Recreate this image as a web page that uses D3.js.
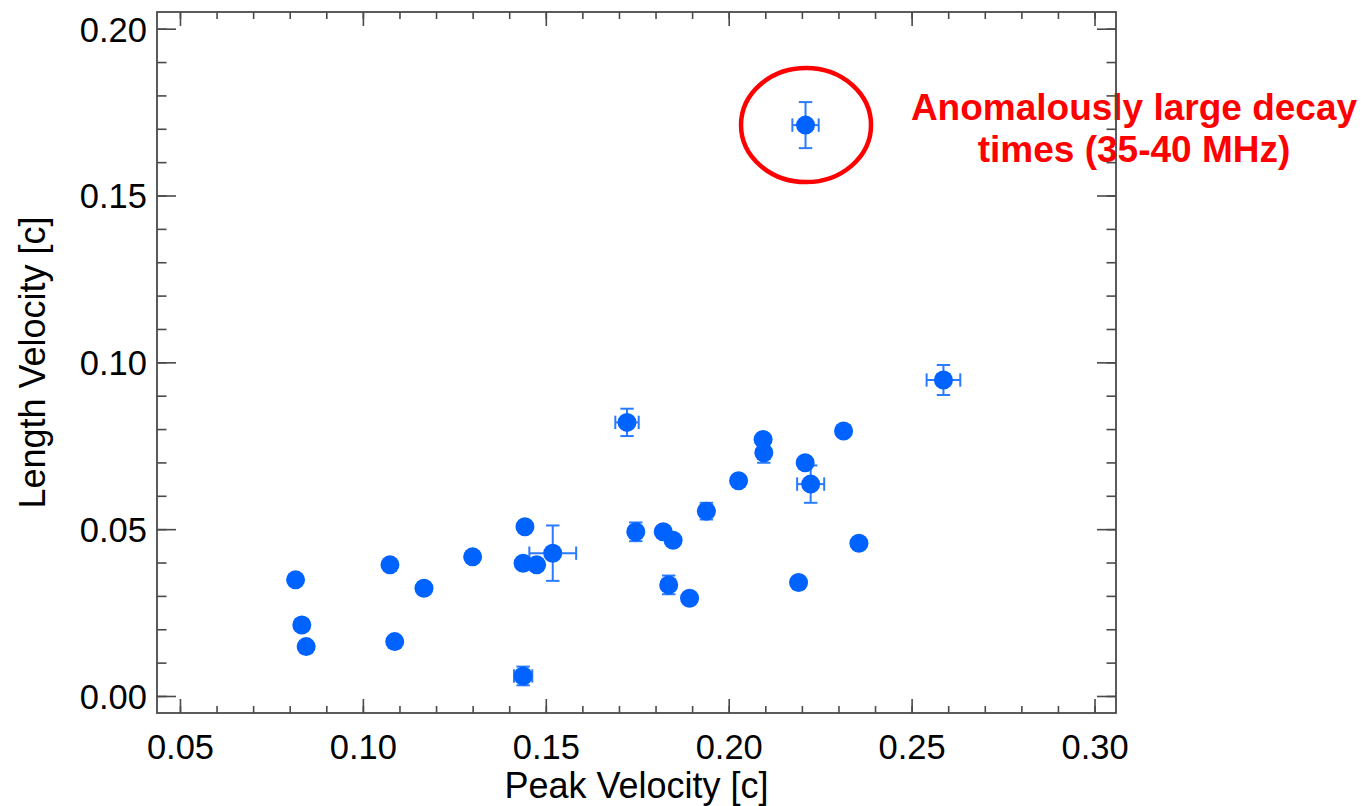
<!DOCTYPE html>
<html>
<head>
<meta charset="utf-8">
<script src="https://cdn.jsdelivr.net/npm/d3@7"></script>
<style>
  html, body { margin: 0; padding: 0; background: #fff; }
  svg { display: block; }
  text { font-family: "Liberation Sans", Arial, Helvetica, sans-serif; }
</style>
</head>
<body>
<svg id="chart" width="1366" height="806"></svg>
<script>
// ---- Data ----
const peakVelocity = [0.0816, 0.0833, 0.0845, 0.1074, 0.1087, 0.1167, 0.1300, 0.1438,
  0.1443, 0.1438, 0.1475, 0.1519, 0.1722, 0.1746, 0.1821, 0.1848, 0.1836, 0.1893,
  0.1939, 0.2027, 0.2094, 0.2096, 0.2191, 0.2209, 0.2224, 0.2314, 0.2356, 0.2587, 0.2210];
const lengthVelocity = [0.0348, 0.0213, 0.0148, 0.0393, 0.0163, 0.0323, 0.0417, 0.0060,
  0.0507, 0.0398, 0.0393, 0.0428, 0.0820, 0.0492, 0.0492, 0.0467, 0.0333, 0.0293,
  0.0554, 0.0645, 0.0769, 0.0729, 0.0340, 0.0699, 0.0635, 0.0794, 0.0458, 0.0947, 0.1711];
const peakVelocityErr = [0.0005, 0.0005, 0.0005, 0.0005, 0.0005, 0.0015, 0.0005, 0.0025,
  0.0005, 0.0005, 0.0005, 0.0064, 0.0032, 0.0015, 0.0005, 0.0005, 0.0015, 0.0005,
  0.0015, 0.0005, 0.0005, 0.0015, 0.0005, 0.0005, 0.0037, 0.0005, 0.0005, 0.0046, 0.0036];
const lengthVelocityErr = [0.0005, 0.0005, 0.0005, 0.0005, 0.0005, 0.0015, 0.0005, 0.0028,
  0.0005, 0.0005, 0.0005, 0.0083, 0.0041, 0.0028, 0.0005, 0.0005, 0.0028, 0.0005,
  0.0025, 0.0005, 0.0005, 0.0030, 0.0005, 0.0005, 0.0056, 0.0005, 0.0005, 0.0045, 0.0069];
const outlierIndex = 28;

const xMajorTicks = [0.05, 0.10, 0.15, 0.20, 0.25, 0.30];
const yMajorTicks = [0.00, 0.05, 0.10, 0.15, 0.20];
const xMinorTicks = d3.range(5, 31).map(d => d / 100);
const yMinorTicks = d3.range(0, 21).map(d => d / 100);
const xTitle = "Peak Velocity [c]";
const yTitle = "Length Velocity [c]";
const annotationLines = ["Anomalously large decay", "times (35-40 MHz)"];

// ---- Layout ----
const svg = d3.select("#chart");
const plotLeft = 157, plotRight = 1116, plotTop = 12, plotBottom = 713;
const x = d3.scaleLinear().domain([0.04372, 0.30587]).range([plotLeft, plotRight]);
const y = d3.scaleLinear().domain([-0.0051, 0.2050]).range([plotBottom, plotTop]);

const axisColor = "#4a4a4a";
const fmt = d3.format(".2f");

function styleAxis(g) {
  g.select(".domain").remove();
  g.selectAll(".tick line").attr("stroke", axisColor).attr("stroke-width", 1.6);
  g.selectAll(".tick text").attr("fill", "#000").style("font-size", "34.5px")
    .style("font-family", "'Liberation Sans', Arial, Helvetica, sans-serif");
}

// Error bars + dots first (axes frame drawn on top, like the reference)
const points = peakVelocity.map((v, i) => ({
  x: v, y: lengthVelocity[i], ex: peakVelocityErr[i], ey: lengthVelocityErr[i]
}));
const errColor = "#2a7bff";
const cap = 6.7;
const eb = svg.append("g").attr("stroke", errColor).attr("stroke-width", 2).attr("fill", "none");
points.forEach(p => {
  const cx = x(p.x), cy = y(p.y);
  const y0 = y(p.y - p.ey), y1 = y(p.y + p.ey);
  const x0 = x(p.x - p.ex), x1 = x(p.x + p.ex);
  eb.append("line").attr("x1", cx).attr("x2", cx).attr("y1", y0).attr("y2", y1);
  eb.append("line").attr("x1", cx - cap).attr("x2", cx + cap).attr("y1", y0).attr("y2", y0);
  eb.append("line").attr("x1", cx - cap).attr("x2", cx + cap).attr("y1", y1).attr("y2", y1);
  eb.append("line").attr("x1", x0).attr("x2", x1).attr("y1", cy).attr("y2", cy);
  eb.append("line").attr("x1", x0).attr("x2", x0).attr("y1", cy - cap).attr("y2", cy + cap);
  eb.append("line").attr("x1", x1).attr("x2", x1).attr("y1", cy - cap).attr("y2", cy + cap);
});

svg.append("g").selectAll("circle").data(points).join("circle")
  .attr("cx", d => x(d.x)).attr("cy", d => y(d.y)).attr("r", 9.5)
  .attr("fill", "#0062ff");

// Annotation circle around outlier
const op = points[outlierIndex];
svg.append("ellipse")
  .attr("cx", x(op.x) + 0.5).attr("cy", y(op.y))
  .attr("rx", 65).attr("ry", 57)
  .attr("fill", "none").attr("stroke", "#ff0000").attr("stroke-width", 4.5);

// Annotation text
const ann = svg.append("text").attr("text-anchor", "middle")
  .style("font-size", "37px").style("font-weight", "bold").attr("fill", "#ff0000");
annotationLines.forEach((t, i) => {
  ann.append("tspan").attr("x", 1134).attr("y", 119.5 + i * 42.5).text(t);
});

// Minor ticks
svg.append("g").attr("transform", `translate(0,${plotBottom})`)
  .call(d3.axisBottom(x).tickValues(xMinorTicks).tickSize(-7).tickFormat("")).call(styleAxis);
svg.append("g").attr("transform", `translate(0,${plotTop})`)
  .call(d3.axisTop(x).tickValues(xMinorTicks).tickSize(-7).tickFormat("")).call(styleAxis);
svg.append("g").attr("transform", `translate(${plotLeft},0)`)
  .call(d3.axisLeft(y).tickValues(yMinorTicks).tickSize(-9.5).tickFormat("")).call(styleAxis);
svg.append("g").attr("transform", `translate(${plotRight},0)`)
  .call(d3.axisRight(y).tickValues(yMinorTicks).tickSize(-9.5).tickFormat("")).call(styleAxis);

// Major ticks
svg.append("g").attr("transform", `translate(0,${plotBottom})`)
  .call(d3.axisBottom(x).tickValues(xMajorTicks).tickSize(-14).tickPadding(22).tickFormat(fmt))
  .call(styleAxis);
svg.append("g").attr("transform", `translate(0,${plotTop})`)
  .call(d3.axisTop(x).tickValues(xMajorTicks).tickSize(-14).tickFormat("")).call(styleAxis);
const yAxisG = svg.append("g").attr("transform", `translate(${plotLeft},0)`)
  .call(d3.axisLeft(y).tickValues(yMajorTicks).tickSize(-19).tickPadding(10).tickFormat(fmt))
  .call(styleAxis);
yAxisG.selectAll(".tick text").attr("dy", "0.36em");
svg.append("g").attr("transform", `translate(${plotRight},0)`)
  .call(d3.axisRight(y).tickValues(yMajorTicks).tickSize(-19).tickFormat("")).call(styleAxis);

// Box
svg.append("rect")
  .attr("x", plotLeft).attr("y", plotTop)
  .attr("width", plotRight - plotLeft).attr("height", plotBottom - plotTop)
  .attr("fill", "none").attr("stroke", axisColor).attr("stroke-width", 1.8);

// Axis titles
svg.append("text").attr("x", (plotLeft + plotRight) / 2).attr("y", 798)
  .attr("text-anchor", "middle").style("font-size", "36px").attr("fill", "#000").text(xTitle);
svg.append("text").attr("transform", `translate(45,${(plotTop + plotBottom) / 2}) rotate(-90)`)
  .attr("text-anchor", "middle").style("font-size", "36px").attr("fill", "#000").text(yTitle);
</script>
</body>
</html>
